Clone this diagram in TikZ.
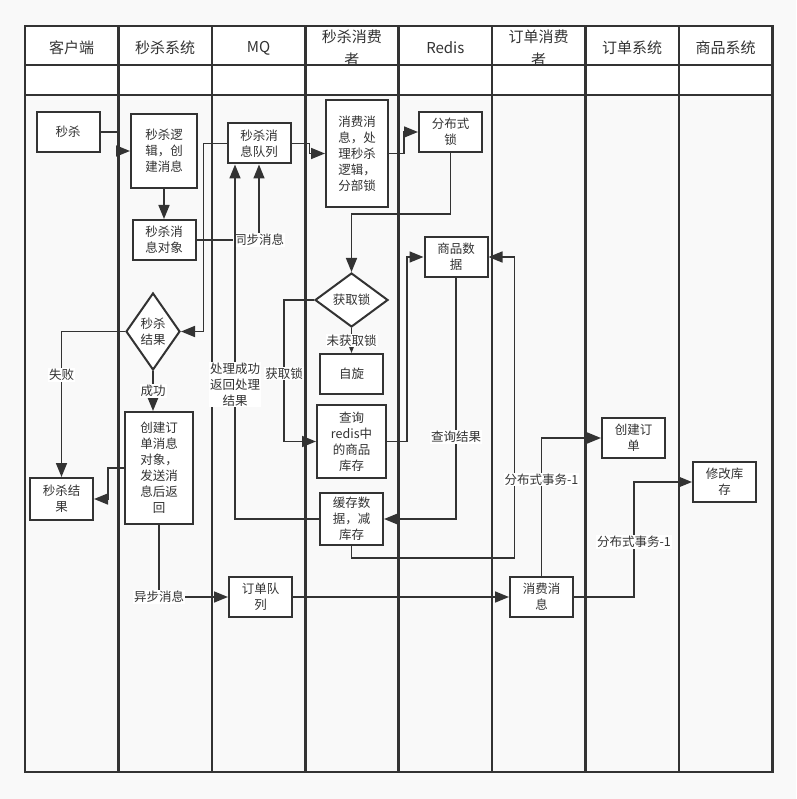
\documentclass[tikz,border=0pt]{standalone}
\usepackage{fontspec}
\setmainfont{Noto Sans CJK SC}
\usetikzlibrary{positioning, shapes.geometric, arrows.meta}
\definecolor{ink}{HTML}{333333}
\definecolor{paper}{HTML}{F9F9F9}

\begin{document}
\begin{tikzpicture}[
  x=1pt, y=-1pt,
  every node/.style={align=center, text=ink, font=\fontsize{12.5}{16}\selectfont},
  box/.style={rectangle, draw=ink, line width=2pt, fill=white, minimum width=63pt, minimum height=40pt, inner sep=1pt},
  dia/.style={diamond, draw=ink, line width=2pt, fill=white, inner sep=0pt},
  lane/.style={draw=ink, line width=2.6pt},
  head/.style={font=\fontsize{15}{23}\selectfont},
  arr/.style={-{Triangle[length=14pt,width=11pt]}, draw=ink, line width=1.6pt},
  lbl/.style={fill=white, inner sep=1pt}
]

\fill[paper] (0,0) rectangle (796,799);
\useasboundingbox (0,0) rectangle (796,799);

% Swimlanes
\foreach \t [count=\i from 0] in {客户端, 秒杀系统, MQ, {秒杀消费\\者}, Redis, {订单消费\\者}, 订单系统, 商品系统} {
  \draw[lane, fill=white] (25+93.4*\i,26) rectangle ++(93.4,39);
  \node[head] (h\i) at (25+93.4*\i+46.7,48) {\t};
  \draw[lane, fill=white] (25+93.4*\i,65) rectangle ++(93.4,30);
  \draw[lane] (25+93.4*\i,95) rectangle ++(93.4,677);
}

% Client
\node[box] (kill) at (68,132) {秒杀};
\node[box, minimum height=42pt] (resbox) at (61.5,499) {秒杀结\\果};

% Seckill system
\node[box, minimum width=66pt, minimum height=74pt] (logic) at (164,151) {秒杀逻\\辑，创\\建消息};
\node[box, below=30pt of logic] (msgobj) {秒杀消\\息对象};
\node[dia, aspect=0.7, minimum width=54pt, minimum height=77pt] (res) at (153,331.5) {秒杀\\结果};
\node[box, minimum width=68pt, minimum height=112pt] (order) at (159,468) {创建订\\单消息\\对象，\\发送消\\息后返\\回};

% MQ
\node[box] (mq) at (259,143.5) {秒杀消\\息队列};
\node[box] (oq) at (260.5,597) {订单队\\列};

% Seckill consumer
\node[box, minimum width=62pt, minimum height=107pt] (consume) at (357,153.5) {消费消\\息，处\\理秒杀\\逻辑，\\分部锁};
\node[dia, minimum width=73pt, minimum height=54pt] (lockq) at (351.5,300) {获取锁};
\node[box, below=25pt of lockq] (spin) {自旋};
\node[box, minimum width=69pt, minimum height=73pt, below=9pt of spin] (query) {查询\\redis中\\的商品\\库存};
\node[box, minimum height=52pt, below=13pt of query] (cache) {缓存数\\据，减\\库存};

% Redis
\node[box] (dlock) at (450.5,132) {分布式\\锁};
\node[box] (goods) at (456,257) {商品数\\据};

% Order consumer, order system, goods system
\node[box] (ocons) at (541.5,597) {消费消\\息};
\node[box] (mkorder) at (633.5,438) {创建订\\单};
\node[box] (stock) at (724.5,482) {修改库\\存};

% Seckill request
\draw[arr] (kill.east) -- ++(17,0) |- (logic.west);
\draw[arr] (logic.south) -- (logic.south |- msgobj.north);
\draw[arr] (msgobj.east) -| node[lbl]{同步消息} (mq.south);
\draw[arr] (mq.east) -- ++(18,0) |- (consume.west);
\draw[arr] (mq.west) -- ++(-23,0) |- (res.east);
\draw[arr] (cache.west) -| node[lbl, pos=0.69]{处理成功\\返回处理\\结果} ([xshift=-24pt]mq.south);

% Result
\draw[arr] (res.west) -| node[lbl, pos=0.65]{失败} (resbox.north);
\draw[arr] (res.south) -- node[lbl]{成功} (res.south |- order.north);
\draw[arr] (order.west) -- ++(-16,0) |- (resbox.east);
\draw[arr] (order.south) |- node[lbl]{异步消息} (oq.west);
\draw[arr] (oq.east) -- (ocons.west);

% Lock and stock
\draw[arr] (consume.east) -- ++(15,0) |- (dlock.west);
\draw[arr] (dlock.south) -- ++(0,61) -| (lockq.north);
\draw[arr] (lockq.south) -- node[lbl]{未获取锁} (spin.north);
\draw[arr] (lockq.west) -- ++(-30,0) |- node[lbl, pos=0.26]{获取锁} (query.west);
\draw[arr] (query.east) -- ++(20,0) |- (goods.west);
\draw[arr] (goods.south) |- node[lbl, pos=0.33]{查询结果} (cache.east);
\draw[arr] (cache.south) -- ++(0,12) -| ([xshift=26pt]goods.east) -- (goods.east);

% Distributed transaction
\draw[arr] (ocons.north) |- node[lbl, pos=0.35]{分布式事务-1} (mkorder.west);
\draw[arr] (ocons.east) -- ++(60,0) |- node[lbl, pos=0.24]{分布式事务-1} (stock.west);

\end{tikzpicture}
\end{document}
